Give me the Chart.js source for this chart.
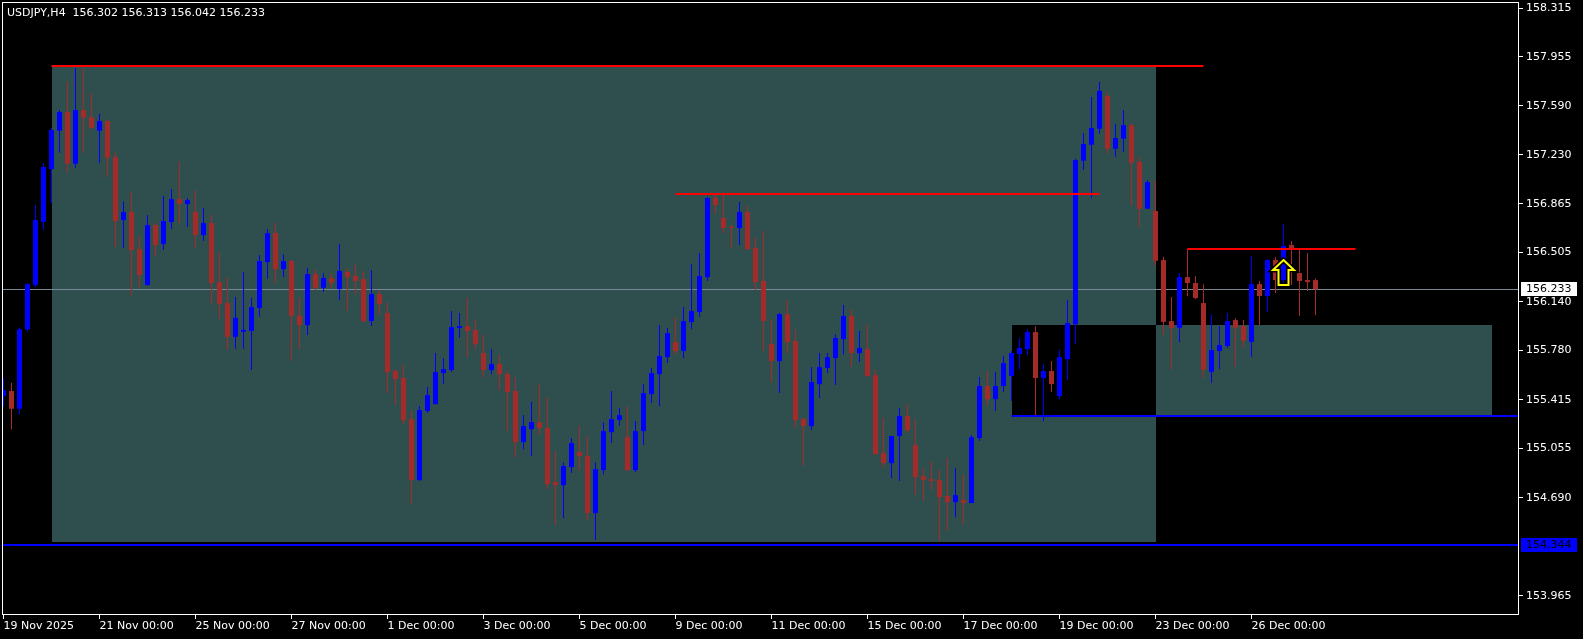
<!DOCTYPE html>
<html>
<head>
<meta charset="utf-8">
<script src="https://cdn.jsdelivr.net/npm/chart.js@4.4.1/dist/chart.umd.min.js"></script>
<style>
html, body { margin: 0; padding: 0; background: #000; }
#wrap { width: 1583px; height: 639px; }
</style>
</head>
<body>
<div id="wrap"><canvas id="myChart" width="1583" height="639"></canvas></div>
<script>
symbolTitle = 'USDJPY,H4  156.302 156.313 156.042 156.233'

// H4 bars from 19 Nov 2025 00:00
opens = [155.444,155.481,155.350,155.937,156.265,156.733,157.123,157.407,157.545,157.163,
157.560,157.506,157.407,157.479,157.212,156.746,156.805,156.531,156.265,156.709,
156.568,156.731,156.901,156.864,156.805,156.635,156.724,156.287,156.132,155.882,
155.919,155.925,156.095,156.435,156.650,156.383,156.443,156.038,155.969,156.346,
156.245,156.317,156.235,156.361,156.332,156.309,155.999,156.198,156.058,155.629,
155.577,155.273,154.822,155.333,155.384,155.614,155.636,155.947,155.962,155.932,
155.762,155.636,155.680,155.606,155.481,155.103,155.199,155.251,155.207,154.807,
154.785,154.918,155.029,155.000,154.578,154.896,155.177,155.266,155.140,154.896,
155.185,155.458,155.606,155.732,155.843,155.777,155.991,156.065,156.324,156.909,
156.761,156.694,156.687,156.805,156.539,156.295,155.828,155.703,156.050,155.851,
155.273,155.222,155.532,155.651,155.725,155.865,156.036,155.762,155.791,155.599,
155.022,154.948,155.148,155.296,155.081,154.852,154.829,154.822,154.704,154.659,
154.674,154.652,155.133,155.518,155.421,155.518,155.592,155.754,155.791,155.917,
155.577,155.629,155.444,155.717,155.976,157.185,157.303,157.422,157.664,157.274,
157.348,157.449,157.177,156.830,156.813,156.450,155.999,155.949,156.324,156.280,
156.132,155.623,155.777,155.814,156.006,155.962,155.845,156.272,156.184,156.450,
156.302,156.561,156.354,156.302,156.302]
highs = [155.575,155.542,155.952,156.282,156.857,157.166,157.425,157.560,157.769,157.869,
157.869,157.684,157.530,157.485,157.247,156.884,156.951,156.628,156.783,156.726,
156.924,156.975,157.177,156.909,156.968,156.835,156.783,156.509,156.324,156.176,
156.361,156.171,156.487,156.679,156.724,156.494,156.450,156.171,156.391,156.376,
156.354,156.354,156.568,156.391,156.420,156.369,156.376,156.228,156.139,155.643,
155.680,155.333,155.370,155.510,155.762,155.725,156.073,156.058,156.169,156.006,
155.895,155.791,155.747,155.629,155.584,155.303,155.399,155.532,155.436,155.037,
154.955,155.133,155.222,155.148,154.955,155.251,155.481,155.355,155.370,155.259,
155.532,155.651,155.969,155.947,156.028,156.102,156.420,156.502,156.916,156.931,
156.931,156.709,156.879,156.850,156.620,156.665,156.013,156.058,156.154,155.939,
155.281,155.658,155.762,155.762,155.902,156.117,156.087,155.925,155.976,155.636,
155.281,155.148,155.355,155.384,155.273,154.911,154.963,154.896,154.985,154.911,
154.859,155.155,155.584,155.629,155.621,155.740,155.777,155.873,155.939,155.962,
155.680,155.703,155.784,156.154,157.200,157.390,157.656,157.767,157.693,157.456,
157.560,157.455,157.214,157.042,157.042,156.474,156.176,156.354,156.531,156.332,
156.272,156.050,155.962,156.058,156.021,156.006,156.480,156.295,156.457,156.472,
156.716,156.591,156.524,156.502,156.313]
lows = [155.364,155.197,155.308,155.919,156.248,156.672,156.870,157.244,157.096,157.133,
157.244,157.417,157.170,157.066,156.546,156.539,156.189,156.248,156.261,156.480,
156.524,156.679,156.724,156.694,156.539,156.591,156.127,156.016,155.786,155.794,
155.794,155.636,156.030,156.312,156.275,156.324,155.705,155.789,155.895,156.228,
156.215,156.243,156.154,156.073,156.198,155.984,155.962,156.043,155.466,155.377,
155.236,154.644,154.815,155.318,155.384,155.532,155.621,155.873,155.732,155.784,
155.584,155.606,155.488,155.185,154.992,155.051,155.000,155.162,154.755,154.489,
154.541,154.874,154.896,154.526,154.378,154.866,155.096,155.222,154.889,154.881,
155.081,155.392,155.370,155.688,155.747,155.725,155.939,156.028,156.295,156.790,
156.650,156.539,156.561,156.524,156.228,155.777,155.547,155.466,155.762,155.207,
154.926,155.192,155.429,155.614,155.525,155.754,155.658,155.695,155.584,155.014,
154.918,154.837,154.815,155.170,154.711,154.667,154.748,154.371,154.445,154.548,
154.496,154.652,155.111,155.370,155.333,155.473,155.407,155.643,155.747,155.303,
155.259,155.473,155.421,155.562,155.828,157.116,156.911,157.385,157.237,157.214,
157.251,156.852,156.689,156.830,156.408,155.895,155.638,155.843,156.184,156.161,
155.577,155.542,155.643,155.799,155.658,155.801,155.734,155.969,156.065,156.206,
156.265,156.265,156.036,156.221,156.042]
closes = [155.488,155.350,155.937,156.272,156.746,157.138,157.412,157.545,157.163,157.560,
157.503,157.429,157.479,157.207,156.739,156.805,156.524,156.339,156.709,156.561,
156.739,156.901,156.867,156.894,156.635,156.724,156.280,156.127,155.882,156.023,
155.934,156.102,156.443,156.650,156.383,156.443,156.038,155.969,156.346,156.245,
156.317,156.282,156.369,156.324,156.295,155.999,156.198,156.124,155.621,155.569,
155.266,154.822,155.340,155.451,155.621,155.643,155.954,155.962,155.925,155.828,
155.636,155.680,155.606,155.473,155.103,155.222,155.251,155.207,154.792,154.785,
154.926,155.096,155.000,154.578,154.903,155.185,155.273,155.303,154.896,155.185,
155.466,155.614,155.740,155.910,155.777,155.999,156.073,156.332,156.909,156.857,
156.687,156.687,156.805,156.531,156.287,155.999,155.703,156.050,155.843,155.266,
155.222,155.547,155.658,155.732,155.873,156.036,155.762,155.799,155.592,155.014,
154.948,155.148,155.296,155.192,154.844,154.822,154.815,154.696,154.659,154.711,
154.652,155.140,155.518,155.421,155.518,155.688,155.762,155.799,155.917,155.577,
155.629,155.532,155.732,155.984,157.190,157.308,157.427,157.701,157.274,157.353,
157.449,157.170,156.830,157.027,156.445,155.993,155.949,156.324,156.280,156.169,
155.638,155.784,155.821,155.999,155.949,155.853,156.272,156.184,156.450,156.302,
156.554,156.531,156.295,156.287,156.233]

// time axis: one label every 12 bars
timeLabels = ['19 Nov 2025','21 Nov 00:00','25 Nov 00:00','27 Nov 00:00','1 Dec 00:00','3 Dec 00:00','5 Dec 00:00',
  '9 Dec 00:00','11 Dec 00:00','15 Dec 00:00','17 Dec 00:00','19 Dec 00:00','23 Dec 00:00','26 Dec 00:00']
timeTickBars = [0,12,24,36,48,60,72,84,96,108,120,132,144,156]
priceTicks = [158.315,157.955,157.590,157.230,156.865,156.505,156.140,155.780,155.415,155.055,154.690,153.965]

bidPrice = 156.233

// rectangles (bar index from/to, price top/bottom)
zoneFrom = [6, 126]
zoneTo = [144, 186]
zoneTop = [157.880, 155.969]
zoneBottom = [154.365, 155.296]

// red trend lines
redFrom = [6, 84, 148]
redTo = [150, 137, 169]
redPrice = [157.885, 156.941, 156.534]

// blue horizontal lines (null = to the chart edge)
blueFrom = [null, 126]
bluePrice = [154.344, 155.296]

arrowBar = 160
arrowPrice = 156.450

bullColor = '#0000ff'
bearColor = '#a52a2a'
font11 = '11px "DejaVu Sans"'

bars = closes.map((c, i) => i)
candleColors = bars.map(i => closes[i] >= opens[i] ? bullColor : bearColor)

mtPlugin = {
  id: 'mt',
  beforeDraw(chart) {
    const c = chart.ctx
    c.save()
    c.fillStyle = '#000'
    c.fillRect(0, 0, chart.width, chart.height)
    c.restore()
  },
  beforeDatasetsDraw(chart) {
    const c = chart.ctx, xs = chart.scales.x, ys = chart.scales.y, a = chart.chartArea
    c.save()
    c.beginPath(); c.rect(a.left, a.top, a.right - a.left, a.bottom - a.top); c.clip()
    const rects = zoneFrom.map((f, k) => {
      const x1 = Math.round(xs.getPixelForValue(f)), x2 = Math.round(xs.getPixelForValue(zoneTo[k]))
      const y1 = Math.round(ys.getPixelForValue(zoneTop[k])), y2 = Math.round(ys.getPixelForValue(zoneBottom[k]))
      return [x1, y1, x2, y2]
    })
    c.fillStyle = '#2f4f4f'
    rects.forEach(r => c.fillRect(r[0], r[1], r[2] - r[0], r[3] - r[1]))
    // overlapping part gets inverted like in the terminal
    c.fillStyle = '#000'
    for (let p = 0; p < rects.length; p++) {
      for (let q = p + 1; q < rects.length; q++) {
        const l = Math.max(rects[p][0], rects[q][0]), r = Math.min(rects[p][2], rects[q][2])
        const t = Math.max(rects[p][1], rects[q][1]), b = Math.min(rects[p][3], rects[q][3])
        if (r > l && b > t) c.fillRect(l, t, r - l, b - t)
      }
    }
    // bid line
    const by = Math.round(ys.getPixelForValue(bidPrice)) + 0.5
    c.strokeStyle = '#778899'; c.lineWidth = 1
    c.beginPath(); c.moveTo(a.left, by); c.lineTo(a.right, by); c.stroke()
    c.restore()
  },
  afterDatasetsDraw(chart) {
    const c = chart.ctx, xs = chart.scales.x, ys = chart.scales.y, a = chart.chartArea
    c.save()
    c.beginPath(); c.rect(a.left, a.top, a.right - a.left, a.bottom - a.top); c.clip()
    c.lineWidth = 2
    c.strokeStyle = '#ff0000'
    redFrom.forEach((f, k) => {
      const y = Math.round(ys.getPixelForValue(redPrice[k]))
      c.beginPath(); c.moveTo(xs.getPixelForValue(f), y); c.lineTo(xs.getPixelForValue(redTo[k]), y); c.stroke()
    })
    c.strokeStyle = '#0000ff'
    bluePrice.forEach((p, k) => {
      const y = Math.round(ys.getPixelForValue(p))
      const x1 = blueFrom[k] === null ? a.left : xs.getPixelForValue(blueFrom[k])
      c.beginPath(); c.moveTo(x1, y); c.lineTo(a.right, y); c.stroke()
    })
    // arrow
    const tx = xs.getPixelForValue(arrowBar), ty = ys.getPixelForValue(arrowPrice)
    const shape = [[0,0],[10.5,10],[5,10],[5,25],[-5,25],[-5,10],[-10.5,10]]
    c.beginPath()
    shape.forEach((p, i) => i ? c.lineTo(tx + p[0], ty + p[1]) : c.moveTo(tx + p[0], ty + p[1]))
    c.closePath()
    c.lineJoin = 'miter'
    c.strokeStyle = '#000'; c.lineWidth = 5; c.stroke()
    c.strokeStyle = '#ffff00'; c.lineWidth = 2; c.stroke()
    c.restore()
  },
  afterDraw(chart) {
    const c = chart.ctx, ys = chart.scales.y, a = chart.chartArea
    c.save()
    c.strokeStyle = '#fff'; c.lineWidth = 1
    c.strokeRect(a.left - 0.5, a.top - 0.5, a.right - a.left, a.bottom - a.top)
    c.font = font11
    c.textBaseline = 'middle'
    c.fillStyle = '#fff'
    c.fillText(symbolTitle, 7, 13)
    // price boxes on the axis
    const boxes = [[bidPrice, '#ffffff'], [bluePrice[0], '#0000ff']]
    boxes.forEach(b => {
      const y = Math.round(ys.getPixelForValue(b[0]))
      c.fillStyle = b[1]
      c.fillRect(a.right + 2, y - 7, 56, 14)
      c.fillStyle = '#000'
      c.fillText(b[0].toFixed(3), a.right + 7, y + 0.5)
    })
    c.restore()
  }
}

var ctx = document.getElementById('myChart').getContext('2d');
chartOne = new Chart(ctx, {
  type: 'bar',
  data: {
    datasets: [{
      label: 'wicks',
      data: bars.map(i => ({x: i, y: [lows[i], highs[i]]})),
      backgroundColor: candleColors,
      barThickness: 1,
      grouped: false,
      inflateAmount: 0,
      borderWidth: 0
    }, {
      label: 'bodies',
      data: bars.map(i => ({x: i, y: [opens[i], closes[i]]})),
      backgroundColor: candleColors,
      barThickness: 5,
      minBarLength: 1,
      grouped: false,
      inflateAmount: 0,
      borderWidth: 0
    }]
  },
  options: {
    responsive: false,
    animation: false,
    layout: { padding: { left: 3, top: 3, right: 0, bottom: 0 } },
    plugins: { legend: { display: false }, tooltip: { enabled: false } },
    scales: {
      x: {
        type: 'linear',
        min: -0.0625,
        max: 189.4375,
        offset: false,
        border: { display: false },
        grid: { drawOnChartArea: false, drawTicks: true, tickLength: 4, tickColor: '#fff', offset: false },
        ticks: {
          color: '#fff', font: { family: 'DejaVu Sans', size: 11 }, padding: 1,
          align: 'start', autoSkip: false, maxRotation: 0,
          callback: (v, i) => timeLabels[i]
        },
        afterBuildTicks: s => { s.ticks = timeTickBars.map(v => ({ value: v })) },
        afterFit: s => { s.height = 24; s.paddingLeft = 0; s.paddingRight = 0 }
      },
      y: {
        type: 'linear',
        position: 'right',
        min: 153.824,
        max: 158.352,
        beginAtZero: false,
        border: { display: false },
        grid: { drawOnChartArea: false, drawTicks: true, tickLength: 4, tickColor: '#fff' },
        ticks: {
          color: '#fff', font: { family: 'DejaVu Sans', size: 11 }, padding: 3,
          callback: v => Number(v).toFixed(3)
        },
        afterBuildTicks: s => { s.ticks = priceTicks.map(v => ({ value: v })) },
        afterFit: s => { s.width = 64; s.paddingTop = 0; s.paddingBottom = 0 }
      }
    }
  },
  plugins: [mtPlugin]
})
</script>
</body>
</html>
